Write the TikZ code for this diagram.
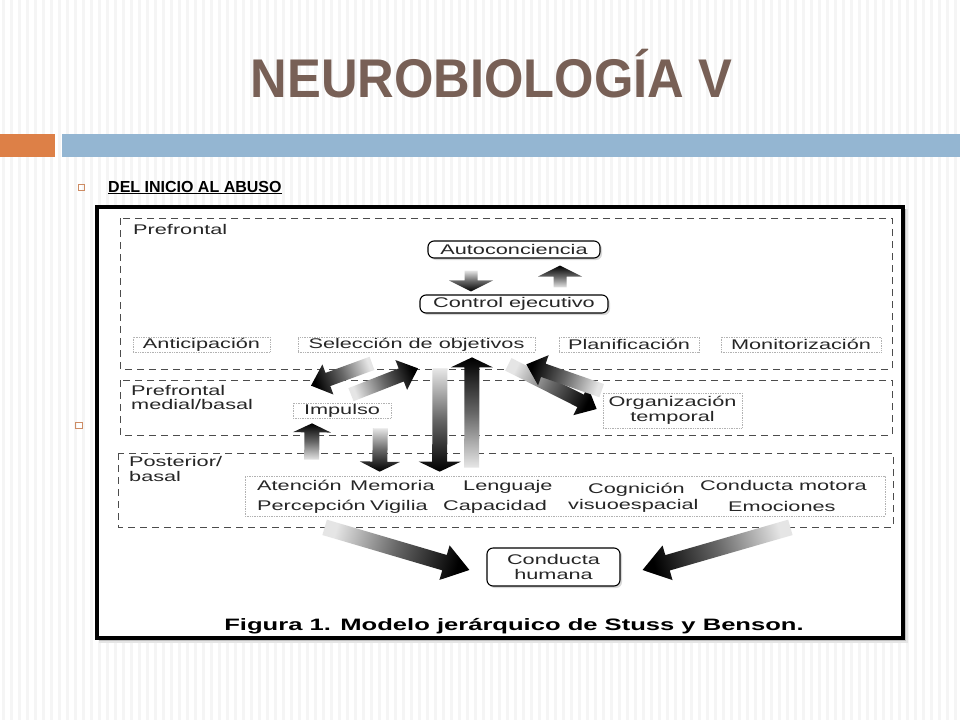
\documentclass[tikz,border=0pt]{standalone}
\usepackage{fontspec}
\setmainfont{Liberation Sans}
\newfontfamily\titlefont[FakeStretch=0.93]{Liberation Sans}
\newfontfamily\figfont[FakeStretch=1.55]{Liberation Sans}
\usetikzlibrary{positioning,calc,shadows}
\definecolor{titlebrown}{RGB}{120,96,86}
\definecolor{barorange}{RGB}{221,128,71}
\definecolor{barblue}{RGB}{148,182,210}
\definecolor{bulletc}{RGB}{205,140,100}

\newcommand{\fatarrow}[5]{%
  \coordinate (fa_t) at #4;
  \coordinate (fa_h) at #5;
  \pgfmathanglebetweenpoints{\pgfpointanchor{fa_t}{center}}{\pgfpointanchor{fa_h}{center}}%
  \pgfmathsetmacro{\faang}{\pgfmathresult-90}%
  \coordinate (fa_b) at ($(fa_h)!#3!(fa_t)$);
  \shade[bottom color=black!10, top color=black, middle color=black!60, shading angle=\faang]
    ($(fa_t)!#1!90:(fa_h)$) -- ($(fa_b)!#1!90:(fa_h)$) -- ($(fa_b)!#2!90:(fa_h)$) -- (fa_h)
    -- ($(fa_b)!#2!-90:(fa_h)$) -- ($(fa_b)!#1!-90:(fa_h)$) -- ($(fa_t)!#1!-90:(fa_h)$) -- cycle;
}

\begin{document}
\begin{tikzpicture}[x=1pt,y=-1pt,node distance=2cm,on grid,
    lbl/.style={font=\figfont\fontsize{14}{15}\selectfont, text=black!85, inner sep=0pt},
    fbox/.style={lbl, draw=black!30, densely dotted, line width=0.7pt},
    rbox/.style={lbl, draw=black, line width=1.1pt, rounded corners=6pt, fill=white,
      drop shadow={shadow xshift=2pt, shadow yshift=-2pt, fill=black!30}},
    word/.style={lbl, anchor=base west},
    region/.style={draw=black!70, line width=1pt, dash pattern=on 7pt off 5pt},
    stripe/.style={line width=3pt, black!4},
    bullet/.style={draw=bulletc, line width=0.6pt}]
  \useasboundingbox (0,0) rectangle (960,720);
  \fill[white] (0,0) rectangle (960,720);
  \foreach \x in {3,11,...,960}
    \draw[stripe] (\x,0) -- (\x,720);
  \node[font=\titlefont\bfseries\fontsize{54.5}{60}\selectfont, text=titlebrown, anchor=base] (title) at (491.5,97) {NEUROBIOLOGÍA V};
  \fill[barorange] (0,134) rectangle (55,157);
  \fill[barblue] (62,134) rectangle (960,157);
  \draw[bullet] (78,184) rectangle +(6.5,6.5);
  \draw[bullet] (75.5,422) rectangle +(6.5,6.5);
  \node[font=\bfseries\fontsize{16}{18}\selectfont, anchor=base west, inner sep=0pt] (subhead) at (108,192) {\underline{DEL INICIO AL ABUSO}};

  \fill[black!10] (99,209) rectangle (908,643);
  \fill[black!25] (99,209) rectangle (906,641);
  \fill[white] (97,207) rectangle (903,638);
  \draw[line width=4pt] (97,207) rectangle (903,638);

  \draw[region] (120,218) rectangle (892,369);
  \draw[region] (120,380) rectangle (892,435);
  \draw[region] (118,453) rectangle (893,527);

  \node[word] (l_pf) at (133,234) {Prefrontal};
  \node[word] (l_pfm1) at (131,395) {Prefrontal};
  \node[word] (l_pfm2) at (131,409) {medial/basal};
  \node[word] (l_pb1) at (129,466) {Posterior/};
  \node[word] (l_pb2) at (129,481) {basal};

  \node[rbox, minimum width=172pt, minimum height=17pt] (b_auto) at (514,249.5) {Autoconciencia};
  \node[rbox, minimum width=188pt, minimum height=18pt, below=54.5pt of b_auto] (b_ctrl) {Control ejecutivo};
  \node[fbox, minimum width=237pt, minimum height=15pt] (b_sel) at (416.5,344.5) {Selección de objetivos};
  \node[fbox, minimum width=137pt, minimum height=15pt, left=215pt of b_sel] (b_antic) {Anticipación};
  \node[fbox, minimum width=140pt, minimum height=15pt, right=212.5pt of b_sel] (b_plan) {Planificación};
  \node[fbox, minimum width=160pt, minimum height=15pt, right=172pt of b_plan] (b_moni) {Monitorización};
  \node[fbox, minimum width=98pt, minimum height=15pt] (b_imp) at (342,410.5) {Impulso};
  \node[fbox, minimum width=139pt, minimum height=35pt, align=center] (b_org) at (672.5,410.5) {Organización\\temporal};
  \node[fbox, minimum width=640pt, minimum height=40pt] (b_fun) at (565,496) {};
  \node[word] (w_att) at (257,490.5) {Atención};
  \node[word] (w_mem) at (350,490.5) {Memoria};
  \node[word] (w_len) at (463,490.5) {Lenguaje};
  \node[word] (w_cog) at (588,493) {Cognición};
  \node[word] (w_mot) at (700,490) {Conducta motora};
  \node[word] (w_per) at (257,510.5) {Percepción};
  \node[word] (w_vig) at (370,510.5) {Vigilia};
  \node[word] (w_cap) at (443,510.5) {Capacidad};
  \node[word] (w_vis) at (568,509) {visuoespacial};
  \node[word] (w_emo) at (728,511) {Emociones};
  \node[rbox, minimum width=133pt, minimum height=38pt, align=center] (b_hum) at (553.5,567) {Conducta\\humana};
  \node[font=\figfont\bfseries\fontsize{16.5}{18}\selectfont, anchor=base] (caption) at (514,630) {Figura 1. Modelo jerárquico de Stuss y Benson.};

  \fatarrow{6.5pt}{22pt}{11pt}{([xshift=-43pt,yshift=-12pt]b_auto.south)}{([xshift=-43pt,yshift=3pt]b_ctrl.north)}
  \fatarrow{6.5pt}{22pt}{11pt}{([xshift=46pt,yshift=7pt]b_ctrl.north)}{([xshift=46pt,yshift=-7pt]b_auto.south)}
  \fatarrow{7pt}{16pt}{18pt}{([xshift=-44.5pt,yshift=-11pt]b_sel.south)}{([xshift=-31pt,yshift=17pt]b_imp.north)}
  \fatarrow{7pt}{16pt}{18pt}{([xshift=9pt,yshift=8pt]b_imp.north)}{([xshift=1.5pt,yshift=-16pt]b_sel.south)}
  \fatarrow{7pt}{16pt}{18pt}{([xshift=-27pt,yshift=-12pt]b_sel.south east)}{([xshift=-6pt,yshift=1.5pt]b_org.west)}
  \fatarrow{7pt}{16pt}{18pt}{([xshift=-1pt,yshift=2pt]b_org.north west)}{([xshift=-9pt,yshift=-12pt]b_sel.south east)}
  \fatarrow{7.5pt}{19pt}{9pt}{([xshift=67pt,yshift=16pt]b_fun.north west)}{([xshift=-30pt,yshift=-5pt]b_imp.south)}
  \fatarrow{7.5pt}{20pt}{10pt}{([xshift=-11pt,yshift=-10pt]b_imp.south east)}{([xshift=135pt,yshift=4pt]b_fun.north west)}
  \fatarrow{7.5pt}{21pt}{10pt}{([xshift=23.5pt,yshift=-16pt]b_sel.south)}{([xshift=195pt,yshift=4pt]b_fun.north west)}
  \fatarrow{7.5pt}{21pt}{10pt}{([xshift=227pt,yshift=8pt]b_fun.north west)}{([xshift=55.5pt,yshift=-5pt]b_sel.south)}
  \fatarrow{8pt}{18pt}{26pt}{([xshift=80pt,yshift=-11pt]b_fun.south west)}{([xshift=-17pt,yshift=-3pt]b_hum.west)}
  \fatarrow{8pt}{18pt}{26pt}{([xshift=-95pt,yshift=-11pt]b_fun.south east)}{([xshift=22pt,yshift=-3pt]b_hum.east)}
\end{tikzpicture}
\end{document}
